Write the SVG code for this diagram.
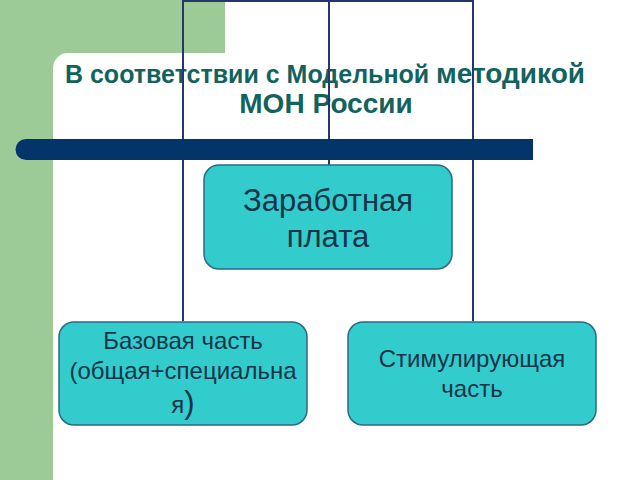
<svg xmlns="http://www.w3.org/2000/svg" width="640" height="480" viewBox="0 0 640 480">
<style>
.box{fill:#33cccc;stroke:#2a6a86;stroke-width:1.5}
.conn{stroke:#25356e;stroke-width:2;fill:none}
.bt{font-family:"Liberation Sans",Arial,sans-serif;fill:#17344a;text-anchor:middle}
.tt{font-family:"Liberation Sans",Arial,sans-serif;font-weight:bold;fill:#12625e;text-anchor:middle}
</style>
<rect x="0" y="0" width="640" height="480" fill="#ffffff"/>
<path d="M0 0H225V53H68A15 15 0 0 0 53 68V480H0Z" fill="#9dcb98"/>
<g id="title">
<text class="tt" x="325" y="83" font-size="25">В соответствии с Модельной <tspan font-size="28">методикой</tspan></text>
<text class="tt" x="326" y="113" font-size="28">МОН России</text>
</g>
<g id="connectors">
<path class="conn" d="M183 321V1H473V321M329 1V165"/>
</g>
<path id="bar" d="M26 139H533V160H26A10.5 10.5 0 0 1 26 139Z" fill="#03346a"/>
<g id="n-salary">
<rect class="box" x="204" y="165" width="248" height="104" rx="15"/>
<text class="bt" x="328" y="211" font-size="31">Заработная</text>
<text class="bt" x="328" y="247" font-size="31">плата</text>
</g>
<g id="n-base">
<rect class="box" x="59" y="322" width="248" height="103" rx="15"/>
<text class="bt" x="183" y="349" font-size="24">Базовая часть</text>
<text class="bt" x="183" y="379" font-size="24">(общая+специальна</text>
<text class="bt" x="183" y="413" font-size="24">я<tspan font-size="31">)</tspan></text>
</g>
<g id="n-stim">
<rect class="box" x="348" y="322" width="248" height="103" rx="15"/>
<text class="bt" x="472" y="367" font-size="24">Стимулирующая</text>
<text class="bt" x="472" y="397" font-size="24">часть</text>
</g>
</svg>
